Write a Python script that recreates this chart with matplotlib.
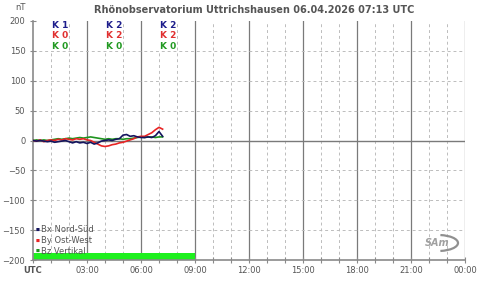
import matplotlib
matplotlib.use("Agg")
import matplotlib.pyplot as plt
from matplotlib.patches import Arc

# hours since 00:00 UTC
t = [0, 0.2, 0.4, 0.6, 0.8, 1.0, 1.2, 1.4, 1.6, 1.8, 2.0, 2.2, 2.4, 2.6, 2.8,
     3.0, 3.2, 3.4, 3.6, 3.8, 4.0, 4.2, 4.4, 4.6, 4.8, 5.0, 5.2, 5.4, 5.6, 5.8,
     6.0, 6.2, 6.4, 6.6, 6.8, 7.0, 7.2]
bx = [0, -1, 0, -1, -2, -1, -3, -2, -1, 0, -2, -4, -2, -4, -3,
      -5, -3, -6, -4, -1, 0, 1, 0, 2, 3, 9, 10, 7, 8, 6,
      5, 5, 6, 5, 8, 15, 7]
by = [0, -1, 1, -2, 0, 1, 0, 2, 1, 3, 2, 1, 3, 2, 3,
      1, 0, -3, -6, -9, -10, -9, -7, -6, -4, -3, -1, 1, 3, 6,
      7, 7, 10, 13, 18, 22, 19]
bz = [0, 1, 0, 1, 0, 1, 2, 3, 2, 3, 4, 3, 4, 5, 4,
      5, 6, 5, 4, 3, 2, 3, 2, 3, 3, 2, 3, 3, 4, 5,
      6, 5, 6, 6, 5, 6, 6]

k_centers = [1.5, 4.5, 7.5]
k_x = ["K 1", "K 2", "K 2"]
k_y = ["K 0", "K 2", "K 2"]
k_z = ["K 0", "K 0", "K 0"]
data_end = 9  # green availability bar

BLUE, RED, GREEN = "#14145e", "#e82424", "#1e941e"
INK = "#555555"

fig = plt.figure(figsize=(4.8, 2.81), dpi=100)
ax = fig.add_axes([33 / 480, 1 - 260 / 281, 432 / 480, 239 / 281])
ax.set_xlim(0, 24)
ax.set_ylim(-200, 200)

for h in range(1, 24):
    if h % 3:
        ax.axvline(h, color="#bcbcbc", lw=0.7, ls=(0, (3, 3)), zorder=1)
for h in range(3, 25, 3):
    ax.axvline(h, color="#7a7a7a", lw=0.9, zorder=1)
for v in (-150, -100, -50, 50, 100, 150):
    ax.axhline(v, color="#bcbcbc", lw=0.7, ls=(0, (3, 3)), zorder=1)
ax.axhline(0, color="#7a7a7a", lw=1.0, zorder=1)

ax.axhspan(-200, -189, xmin=0, xmax=data_end / 24, color="#1ef01e", lw=0, zorder=2)

ax.plot(t, bz, color=GREEN, lw=1.2, zorder=3)
ax.plot(t, by, color=RED, lw=1.2, zorder=4)
ax.plot(t, bx, color=BLUE, lw=1.2, zorder=5)

box = dict(boxstyle="square,pad=0.05", fc="white", ec="none")
for c, a, b, z in zip(k_centers, k_x, k_y, k_z):
    ax.text(c, 192, a, color="#1e1e8c", fontsize=6.5, fontweight="bold", ha="center", va="center", bbox=box, zorder=6)
    ax.text(c, 175, b, color="#e03030", fontsize=6.5, fontweight="bold", ha="center", va="center", bbox=box, zorder=6)
    ax.text(c, 158, z, color="#229922", fontsize=6.5, fontweight="bold", ha="center", va="center", bbox=box, zorder=6)

for s in ("top", "right"):
    ax.spines[s].set_visible(False)
for s in ("left", "bottom"):
    ax.spines[s].set_color("#8a8a8a")
    ax.spines[s].set_linewidth(1.2)

ax.set_yticks(range(-200, 201, 50))
ax.set_xticks(range(0, 25, 3))
ax.set_xticks(range(0, 25, 1), minor=True)
ax.set_xticklabels(["UTC", "03:00", "06:00", "09:00", "12:00", "15:00", "18:00", "21:00", "00:00"])
ax.xaxis.get_ticklabels()[0].set_fontweight("bold")
ax.tick_params(axis="both", which="both", direction="inout", colors="#8a8a8a",
               labelcolor=INK, labelsize=6, length=4, width=0.8)
ax.tick_params(axis="x", pad=2)

fig.text(20 / 480, 1 - 8 / 281, "nT", color=INK, fontsize=6, ha="center", va="center")
fig.text(254 / 480, 1 - 10 / 281, "Rhönobservatorium Uttrichshausen 06.04.2026 07:13 UTC",
         color="#555555", fontsize=7, fontweight="bold", ha="center", va="center")

# legend
for i, (lab, col) in enumerate([("Bx Nord-Süd", BLUE), ("By Ost-West", RED), ("Bz Vertikal", GREEN)]):
    y = 1 - (230 + i * 10.5) / 281
    fig.text(36 / 480, y, "■", color=col, fontsize=3, ha="left", va="center")
    fig.text(41 / 480, y, lab, color=INK, fontsize=6, ha="left", va="center")

# SAM logo
fig.text(437 / 480, 1 - 243 / 281, "SAm", color="#a0a0a0", fontsize=7, fontstyle="italic",
         fontweight="bold", ha="center", va="center")
logo = Arc((438 / 480, 1 - 243 / 281), 40 / 480, 16 / 281, theta1=-80, theta2=80,
           transform=fig.transFigure, color="#909090", lw=1.6)
fig.add_artist(logo)

fig.savefig("out.png", dpi=100)
